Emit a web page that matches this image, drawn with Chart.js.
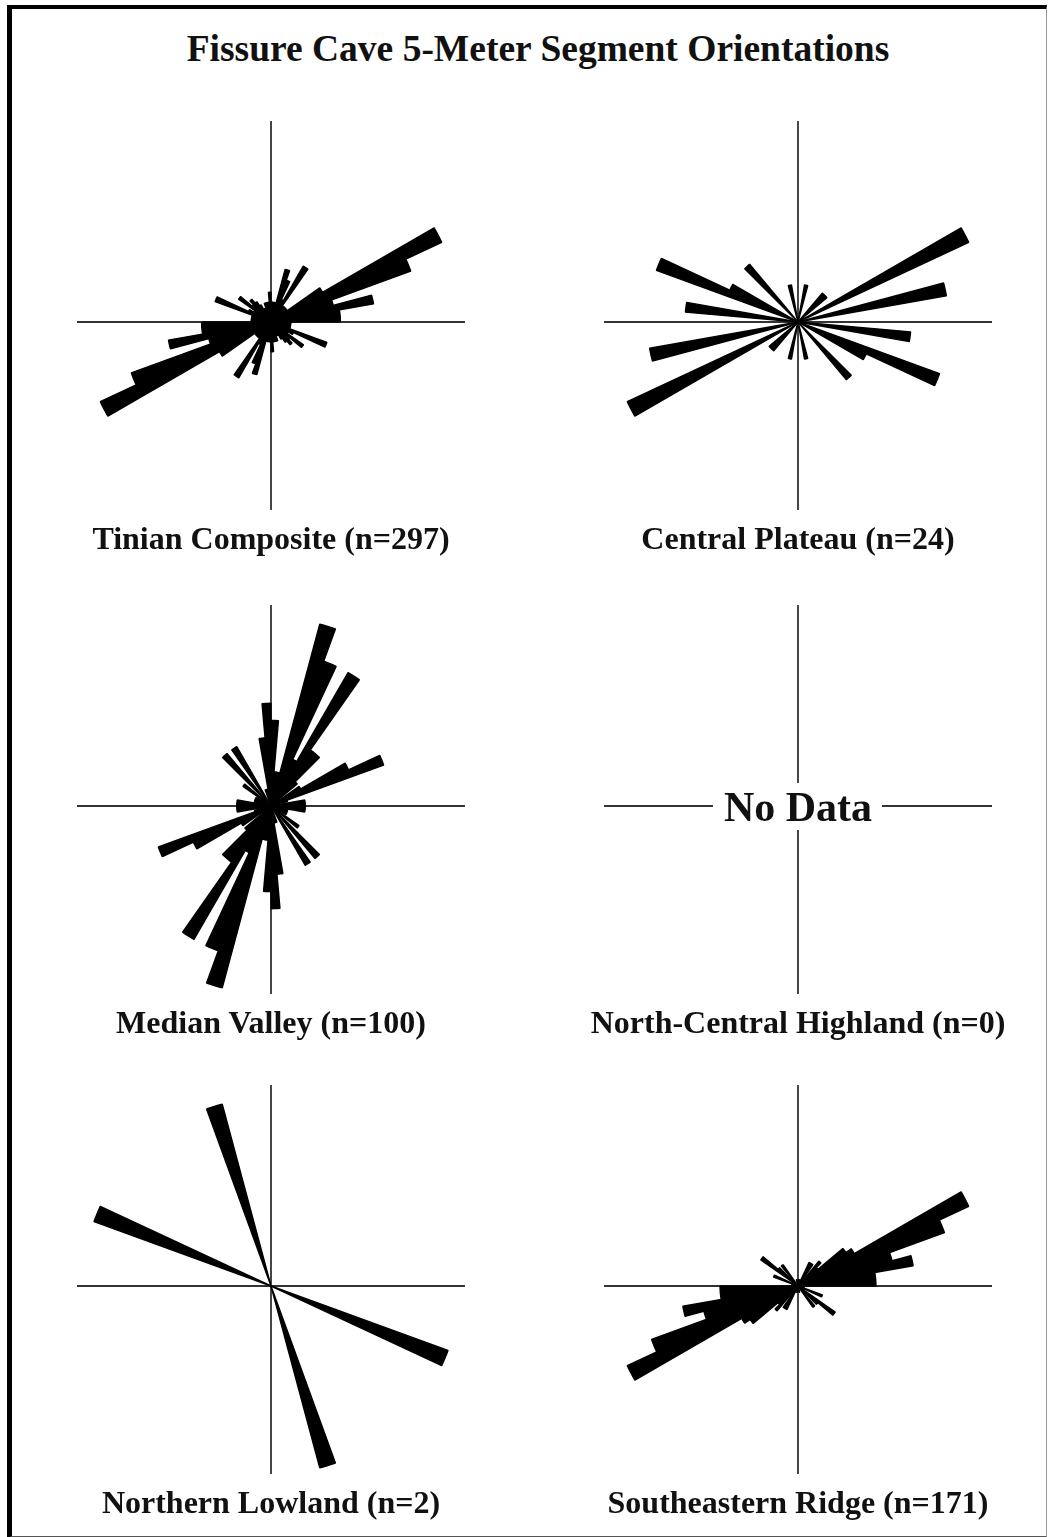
<!DOCTYPE html>
<html>
<head>
<meta charset="utf-8">
<script src="https://cdn.jsdelivr.net/npm/chart.js@4.4.1/dist/chart.umd.min.js"></script>
<style>
  body { margin: 0; background: #fff; }
  #page { position: relative; width: 1049px; height: 1537px; overflow: hidden;
    font-family: "Liberation Serif", "Times New Roman", serif; font-weight: bold; color: #111; }
  #frame { position: absolute; left: 7px; top: 5px; width: 1034px; height: 1527px;
    border-left: 5px solid #000; border-top: 4px solid #000; border-right: 1px solid #999; border-bottom: 2px solid #555; }
  .title { position: absolute; left: 0; width: 1076px; top: 30px; text-align: center; font-size: 37.5px; line-height: 37px; }
  .label { position: absolute; width: 560px; text-align: center; font-size: 32px; line-height: 31px; white-space: nowrap; }
  .nodata { position: absolute; width: 200px; text-align: center; font-size: 42px; line-height: 42px; }
  canvas { position: absolute; }
</style>
</head>
<body>
<div id="page">
  <div id="frame"></div>
  <div class="title">Fissure Cave 5-Meter Segment Orientations</div>
</div>
<script>
// 5 degree azimuth bins (start of bin), 0-180; the rose is bidirectional so 180-360 repeats them
const bins = [0, 5, 10, 15, 20, 25, 30, 35, 40, 45, 50, 55, 60, 65, 70, 75, 80, 85,
  90, 95, 100, 105, 110, 115, 120, 125, 130, 135, 140, 145, 150, 155, 160, 165, 170, 175];

// segment counts per bin
const tinian = [4, 4, 4, 11, 9, 5, 13, 4, 4, 4, 4, 12, 38, 30, 13, 21, 14, 14,
  4, 4, 4, 4, 12, 5, 4, 8, 5, 6, 5, 4, 3, 3, 4, 4, 4, 6];
const central = [0, 0, 1, 0, 0, 0, 0, 0, 1, 1, 0, 0, 5, 0, 0, 4, 0, 0,
  0, 3, 0, 0, 4, 2, 0, 0, 0, 2, 0, 0, 0, 0, 0, 1, 0, 0];
const median = [5, 2, 2, 11, 9, 3, 9, 4, 4, 2, 0, 2, 5, 7, 1, 0, 2, 2,
  2, 2, 1, 1, 1, 1, 0, 2, 0, 4, 0, 4, 0, 0, 1, 1, 4, 6];
const northCentral = [0, 0, 0, 0, 0, 0, 0, 0, 0, 0, 0, 0, 0, 0, 0, 0, 0, 0,
  0, 0, 0, 0, 0, 0, 0, 0, 0, 0, 0, 0, 0, 0, 0, 0, 0, 0];
const northern = [0, 0, 0, 0, 0, 0, 0, 0, 0, 0, 0, 0, 0, 0, 0, 0, 0, 0,
  0, 0, 0, 0, 1, 0, 0, 0, 0, 0, 0, 0, 0, 0, 1, 0, 0, 0];
const southeastern = [0, 1, 0, 1, 0, 4, 4, 0, 5, 4, 9, 10, 29, 24, 15, 18, 12, 12,
  1, 0, 0, 1, 4, 0, 1, 7, 4, 0, 4, 0, 0, 0, 0, 1, 0, 0];

const titles = ['Tinian Composite (n=297)', 'Central Plateau (n=24)', 'Median Valley (n=100)',
  'North-Central Highland (n=0)', 'Northern Lowland (n=2)', 'Southeastern Ridge (n=171)'];

const page = document.getElementById('page');

// cross-hair axes drawn under the petals
const crossAxes = {
  id: 'crossAxes',
  beforeDatasetsDraw(chart, args, opts) {
    const r = chart.scales.r;
    const ctx = chart.ctx;
    const x = r.xCenter, y = r.yCenter, d = r.drawingArea;
    const g = opts.gap || { left: 0, right: 0, top: 0, bottom: 0 };
    ctx.save();
    ctx.strokeStyle = '#333';
    ctx.lineWidth = 1.8;
    ctx.beginPath();
    ctx.moveTo(x - d, y); ctx.lineTo(x - g.left, y);
    ctx.moveTo(x + g.right, y); ctx.lineTo(x + d, y);
    ctx.moveTo(x, y - d - 7); ctx.lineTo(x, y - g.top);
    ctx.moveTo(x, y + g.bottom); ctx.lineTo(x, y + d - 6);
    ctx.stroke();
    ctx.restore();
  }
};

function rose(counts, title, cx, cy, gap) {
  const canvas = document.createElement('canvas');
  canvas.width = 420;
  canvas.height = 420;
  canvas.style.left = (cx - 210) + 'px';
  canvas.style.top = (cy - 210) + 'px';
  page.appendChild(canvas);

  const label = document.createElement('div');
  label.className = 'label';
  label.textContent = title;
  label.style.left = (cx - 280) + 'px';
  label.style.top = (cy + 201) + 'px';
  page.appendChild(label);

  const maxCount = Math.max(1, ...counts);
  const data_rose = {
    labels: bins.concat(bins.map(b => b + 180)),
    datasets: [{
      data: counts.concat(counts),
      backgroundColor: '#000',
      borderColor: '#000',
      borderWidth: c => (c.raw > 0 ? 1.4 : 0)
    }]
  };
  const config_rose = {
    type: 'polarArea',
    data: data_rose,
    options: {
      responsive: false,
      animation: false,
      events: [],
      layout: { padding: 16 },
      scales: {
        r: {
          min: 0,
          max: maxCount * 1.03,
          startAngle: 0,
          ticks: { display: false },
          grid: { display: false },
          angleLines: { display: false },
          pointLabels: { display: false }
        }
      },
      plugins: {
        legend: { display: false },
        tooltip: { enabled: false },
        crossAxes: { gap: gap }
      }
    },
    plugins: [crossAxes]
  };
  return new Chart(canvas, config_rose);
}

rose(tinian, titles[0], 271, 322);
rose(central, titles[1], 798, 322);
rose(median, titles[2], 271, 806);
rose(northCentral, titles[3], 798, 806, { left: 85, right: 84, top: 23, bottom: 24 });
rose(northern, titles[4], 271, 1286);
rose(southeastern, titles[5], 798, 1286);

const noData = document.createElement('div');
noData.className = 'nodata';
noData.textContent = 'No Data';
noData.style.left = (798 - 100) + 'px';
noData.style.top = (821 - 35) + 'px';
page.appendChild(noData);
</script>
</body>
</html>
